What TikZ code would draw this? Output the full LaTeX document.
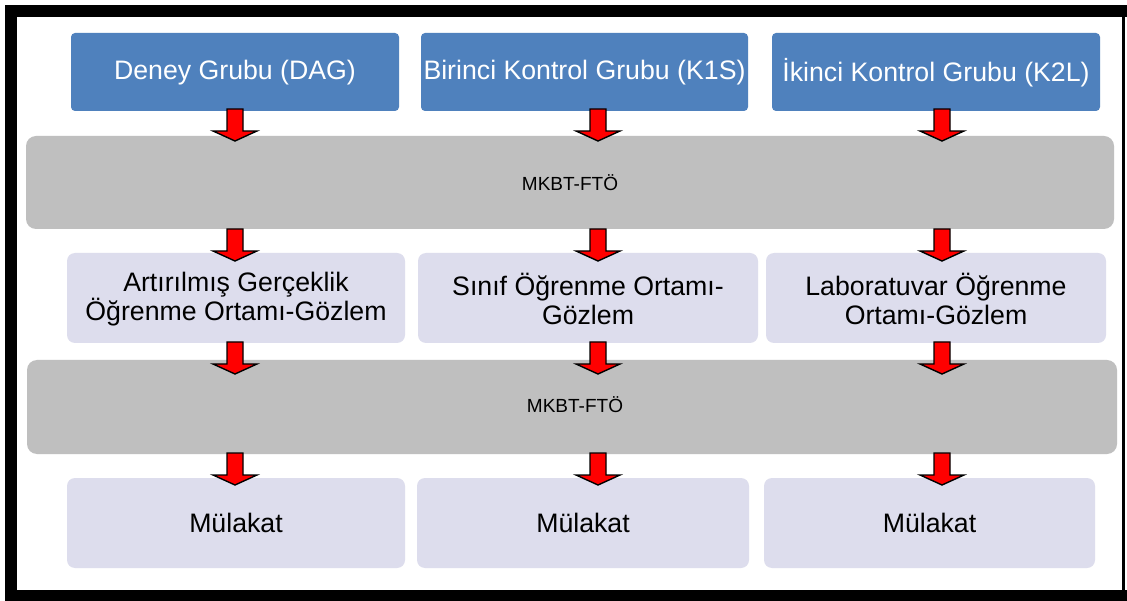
\documentclass[tikz,border=0pt]{standalone}
\usepackage{fontspec}
\setmainfont{Liberation Sans}
\definecolor{groupblue}{RGB}{79,129,189}
\definecolor{stepgray}{RGB}{191,191,191}
\definecolor{lavender}{RGB}{221,221,237}
\tikzset{
  group/.style={fill=groupblue, rounded corners=4pt, text=white, align=center,
    font=\fontsize{26.7}{29}\selectfont, inner sep=0pt},
  band/.style={fill=stepgray, rounded corners=10pt, align=center,
    font=\fontsize{19}{23}\selectfont, inner sep=0pt},
  phase/.style={fill=lavender, rounded corners=8pt, align=center,
    font=\fontsize{26.7}{29}\selectfont, inner sep=0pt},
  downarr/.pic={
    \draw[fill=red, line width=1.4pt, line join=miter]
      (-8,0) -- (8,0) -- (8,22) -- (22,22) -- (0,32) -- (-22,22) -- (-8,22) -- cycle;
  }
}
\begin{document}
\begin{tikzpicture}[x=1pt,y=-1pt]
  % page and frame
  \fill[white] (0,0) rectangle (1127,601);
  \fill[black] (5,5) rectangle (1127,601);
  \fill[white] (17,17) rectangle (1122,590);
  \fill[white] (1124.5,17) rectangle (1127,590);
  \useasboundingbox (0,0) rectangle (1127,601);

  % group boxes
  \path[group] (71,33) rectangle (399,111) node[midway, yshift=-1pt] (g1) {Deney Grubu (DAG)};
  \path[group] (421,33) rectangle (748,111) node[midway, yshift=-1pt] (g2) {Birinci Kontrol Grubu (K1S)};
  \path[group] (772,33) rectangle (1100,111) node[midway, yshift=-1pt] (g3) {İkinci Kontrol Grubu (K2L)};

  % first test band
  \path[band] (26,136) rectangle (1114,229) node[midway] (t1) {MKBT-FTÖ};

  % learning environments
  \path[phase] (67,253) rectangle (405,343) node[midway, yshift=-1pt] (p1) {Artırılmış Gerçeklik\\Öğrenme Ortamı-Gözlem};
  \path[phase] (418,253) rectangle (758,343) node[midway, yshift=-1pt] (p2) {Sınıf Öğrenme Ortamı-\\Gözlem};
  \path[phase] (766,253) rectangle (1106,343) node[midway, yshift=-1pt] (p3) {Laboratuvar Öğrenme\\Ortamı-Gözlem};

  % second test band
  \path[band] (27,360) rectangle (1117,454) node[midway, xshift=3pt, yshift=2pt] (t2) {MKBT-FTÖ};

  % interviews
  \path[phase] (67,478) rectangle (405,568) node[midway] (m1) {Mülakat};
  \path[phase] (417,478) rectangle (749,568) node[midway] (m2) {Mülakat};
  \path[phase] (764,478) rectangle (1095,568) node[midway] (m3) {Mülakat};

  % block arrows between the rows
  \foreach \cx in {235,598,942} {
    \foreach \ty in {109,229,342,453} {
      \pic at (\cx,\ty) {downarr};
    }
  }
\end{tikzpicture}
\end{document}
